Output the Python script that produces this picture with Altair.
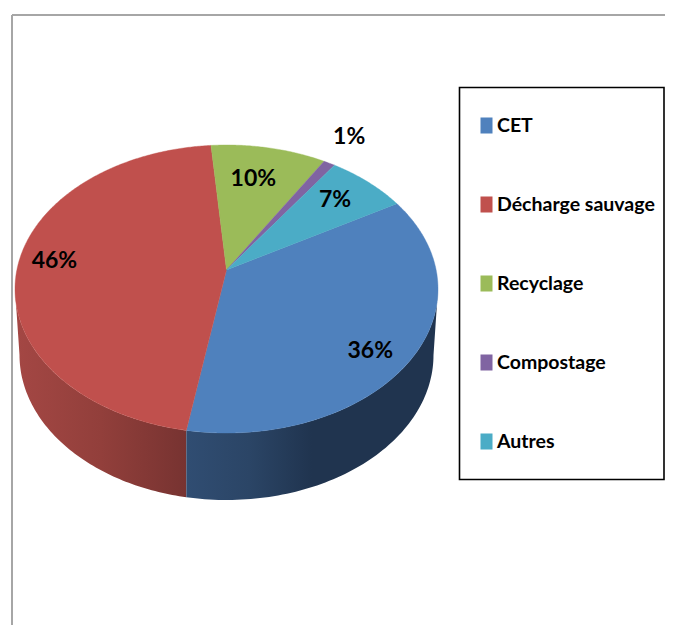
import numpy as np
import pandas as pd
import altair as alt

categories = ["CET", "Décharge sauvage", "Recyclage", "Compostage", "Autres"]
shares = [36, 46, 10, 1, 7]
labels = ["36%", "46%", "10%", "1%", "7%"]
colors = ["#4F81BD", "#C0504D", "#9BBB59", "#8064A2", "#4BACC6"]
label_radius = [0.83, 0.83, 0.72, 1.26, 0.765]
label_nudge = [-5, -2, 2, 1, 1]

FONT = "Lato"
W, H = 657, 617
CX, CY, A, B, K = 226.5, 289.0, 211.5, 144.0, 0.132   # top ellipse, perspective
CY2, A2, B2 = 355.0, 207.0, 145.0                      # bottom ellipse
START = 30.0


def project(r, deg):
    phi = np.radians(deg)
    u, v = r * np.cos(phi), r * np.sin(phi)
    d = 1 + K * v
    return CX + A * u * np.sqrt(1 - K * K) / d, CY - B * (v + K) / d


xs = alt.X("x:Q", scale=alt.Scale(domain=[8, 8 + W], nice=False, zero=False), axis=None)
ys = alt.Y("y:Q", scale=alt.Scale(domain=[8, 8 + H], reverse=True, nice=False, zero=False), axis=None)

# slices, clockwise from START
slice_layers, lab_rows, key_rows = [], [], []
ang = START
x0, y0 = project(0.0, 0.0)
for name, s, lab, rad, nud, col in zip(categories, shares, labels, label_radius, label_nudge, colors):
    sweep = s * 3.6
    angs = np.linspace(ang, ang - sweep, max(int(sweep * 2), 2) + 1)
    pts = [(x0, y0)] + [project(1.0, a) for a in angs] + [(x0, y0)]
    df = pd.DataFrame({"x": [p[0] for p in pts], "y": [p[1] for p in pts], "i": range(len(pts))})
    slice_layers.append(
        alt.Chart(df).mark_line(fill=col, stroke=col, strokeWidth=0.4).encode(x=xs, y=ys, order="i:Q")
    )
    lx, ly = project(rad, ang - sweep / 2 + nud)
    lab_rows.append({"label": lab, "x": lx, "y": ly})
    key_rows.append({"name": name, "x": x0, "y": y0})
    ang -= sweep
text_df = pd.DataFrame(lab_rows)
key_df = pd.DataFrame(key_rows)

# seam between CET and Décharge sauvage on the front rim
seam_x, seam_y = project(1.0, START - shares[0] * 3.6)
t_top = np.degrees(np.arctan2(-(seam_y - CY) / B, (seam_x - CX) / A)) % 360
t_bot = 360 - np.degrees(np.arccos((seam_x - CX) / A2))


def wall(t1, t2, b1, b2):
    t = np.linspace(t1, t2, 80)
    bt = np.linspace(b2, b1, 80)
    wx = list(CX + A * np.cos(np.radians(t))) + list(CX + A2 * np.cos(np.radians(bt)))
    wy = list(CY - B * np.sin(np.radians(t))) + list(CY2 - B2 * np.sin(np.radians(bt)))
    wx.append(wx[0])
    wy.append(wy[0])
    return pd.DataFrame({"x": wx, "y": wy, "i": range(len(wx))})


red_wall = wall(180, t_top, 180, t_bot)
blue_wall = wall(t_top, 360, t_bot, 360)


def grad(stops):
    return alt.LinearGradient(gradient="linear", x1=0, x2=1, y1=0, y2=0,
                              stops=[alt.GradientStop(offset=o, color=c) for o, c in stops])


red_layer = alt.Chart(red_wall).mark_line(
    fill=grad([(0, "#A44744"), (0.5, "#923F3B"), (1, "#773331")]), strokeWidth=0
).encode(x=xs, y=ys, order="i:Q")
blue_layer = alt.Chart(blue_wall).mark_line(
    fill=grad([(0, "#304D72"), (0.25, "#2B4566"), (0.5, "#20344F"), (1, "#20344F")]), strokeWidth=0
).encode(x=xs, y=ys, order="i:Q")

# the legend comes from this layer (its points are hidden under the pie)
key = alt.Chart(key_df).mark_square(size=1, opacity=1).encode(
    x=xs, y=ys,
    color=alt.Color("name:N", scale=alt.Scale(domain=categories, range=colors), legend=alt.Legend(
        title=None, orient="none", legendX=468.5, legendY=106, padding=0, zindex=1,
        symbolType="M-0.6,-0.8H0.6V0.8H-0.6Z", symbolSize=400, symbolStrokeWidth=0,
        labelFont=FONT, labelFontSize=19.5, labelFontWeight="bold", labelColor="black",
        labelOffset=0.5, rowPadding=56, labelLimit=200, clipHeight=23,
    )),
)

text = alt.Chart(text_df).mark_text(
    font=FONT, fontSize=23, fontWeight="bold", color="black", align="center", baseline="middle"
).encode(x=xs, y=ys, text="label:N")

frame_df = pd.DataFrame({"x": [12, 12], "x2": [12, 665], "y": [15, 15], "y2": [625, 15]})
frame = alt.Chart(frame_df).mark_rule(color="#A6A6A6", strokeWidth=2).encode(
    x=xs, y=ys, x2="x2:Q", y2="y2:Q")

box_df = pd.DataFrame({"x": [459.5], "x2": [664], "y": [87.5], "y2": [479.5]})
box = alt.Chart(box_df).mark_rect(fill="white", stroke="black", strokeWidth=1.6).encode(
    x=xs, y=ys, x2="x2:Q", y2="y2:Q")

chart = alt.layer(frame, box, key, red_layer, blue_layer, *slice_layers, text).properties(
    width=W, height=H, padding=0, autosize=alt.AutoSizeParams(type="none"),
    background="white",
).configure_view(stroke=None)

chart.save("out.html", embed_options={"renderer": "svg", "actions": False})
